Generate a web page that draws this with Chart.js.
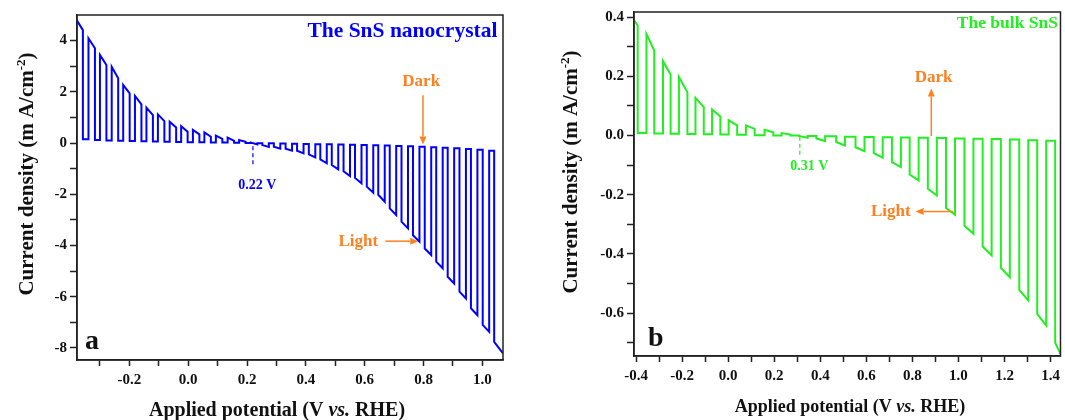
<!DOCTYPE html>
<html>
<head>
<meta charset="utf-8">
<script src="https://cdn.jsdelivr.net/npm/chart.js@4.4.1/dist/chart.umd.min.js"></script>
<style>
  body { margin: 0; background: #fff; }
  #wrap { position: relative; width: 1065px; height: 420px; background: #fff; }
  #chartA { position: absolute; left: 0; top: 0; width: 530px; height: 420px; }
  #chartB { position: absolute; left: 530px; top: 0; width: 535px; height: 420px; }
</style>
</head>
<body>
<div id="wrap">
  <canvas id="chartA" width="530" height="420"></canvas>
  <canvas id="chartB" width="535" height="420"></canvas>
</div>
<script>
// ---- Panel a: SnS nanocrystal, chopped light (V vs RHE, mA/cm-2) ----
// potential where the light is switched on / off for each chop
const aOn = [-0.378, -0.339, -0.300, -0.260, -0.221, -0.181, -0.142, -0.103, -0.063, -0.024,
    0.016, 0.055, 0.094, 0.134, 0.173, 0.213, 0.252, 0.291, 0.331, 0.370, 0.410, 0.449, 0.488,
    0.528, 0.567, 0.607, 0.646, 0.685, 0.725, 0.764, 0.804, 0.843, 0.882, 0.922, 0.961, 1.001, 1.040];
const aOff = [-0.358, -0.317, -0.278, -0.238, -0.199, -0.159, -0.120, -0.081, -0.041, -0.002,
    0.038, 0.077, 0.116, 0.156, 0.195, 0.235, 0.274, 0.313, 0.353, 0.392, 0.432, 0.471, 0.510,
    0.550, 0.589, 0.629, 0.668, 0.707, 0.747, 0.786, 0.826, 0.865, 0.904, 0.944, 0.983, 1.023, 1.070];
// current at the start and at the end of each light period
const aLightStart = [4.78, 4.09, 3.44, 2.98, 2.27, 1.84, 1.38, 1.12, 0.83, 0.66, 0.51, 0.42, 0.29,
    0.21, 0.12, 0.02, -0.08, -0.14, -0.22, -0.30, -0.44, -0.64, -0.86, -1.10, -1.36, -1.70, -2.02,
    -2.55, -3.07, -3.60, -4.12, -4.63, -5.22, -5.80, -6.45, -7.10, -7.76];
const aLightEnd = [4.41, 3.70, 3.05, 2.53, 1.94, 1.51, 1.09, 0.86, 0.61, 0.44, 0.34, 0.25, 0.16,
    0.09, 0.05, -0.05, -0.15, -0.22, -0.30, -0.40, -0.56, -0.79, -1.03, -1.29, -1.57, -1.94, -2.29,
    -2.81, -3.33, -3.85, -4.37, -4.89, -5.48, -6.07, -6.72, -7.37, -8.21];
// dark current after each light period
const aDark = [0.15, 0.12, 0.10, 0.09, 0.08, 0.07, 0.06, 0.05, 0.04, 0.03, 0.03, 0.02, 0.02, 0.01,
    0.00, -0.01, -0.01, -0.02, -0.03, -0.04, -0.05, -0.05, -0.06, -0.07, -0.08, -0.09, -0.10,
    -0.11, -0.12, -0.14, -0.16, -0.18, -0.20, -0.23, -0.26, -0.30];
const aXMajor = [-0.2, 0.0, 0.2, 0.4, 0.6, 0.8, 1.0];
const aXMinor = [-0.3, -0.1, 0.1, 0.3, 0.5, 0.7, 0.9];
const aYMajor = [-8, -6, -4, -2, 0, 2, 4];
const aYMinor = [-7, -5, -3, -1, 1, 3];

// ---- Panel b: bulk SnS ----
const bOn = [-0.409, -0.355, -0.283, -0.214, -0.142, -0.070, 0.002, 0.077, 0.158, 0.232, 0.307,
    0.383, 0.469, 0.553, 0.632, 0.711, 0.788, 0.867, 0.946, 1.026, 1.105, 1.184, 1.264, 1.342, 1.420];
const bOff = [-0.393, -0.321, -0.250, -0.177, -0.106, -0.034, 0.039, 0.115, 0.196, 0.270, 0.345,
    0.421, 0.507, 0.592, 0.671, 0.750, 0.827, 0.906, 0.985, 1.065, 1.144, 1.223, 1.303, 1.381, 1.443];
const bLightStart = [0.389, 0.343, 0.251, 0.197, 0.127, 0.088, 0.051, 0.034, 0.019, 0.008, -0.002,
    -0.010, -0.022, -0.040, -0.060, -0.090, -0.132, -0.180, -0.245, -0.305, -0.375, -0.447, -0.522,
    -0.603, -0.700];
const bLightEnd = [0.372, 0.287, 0.206, 0.146, 0.096, 0.064, 0.034, 0.022, 0.011, 0.003, -0.008,
    -0.019, -0.034, -0.053, -0.075, -0.107, -0.152, -0.203, -0.268, -0.332, -0.405, -0.479, -0.557,
    -0.642, -0.738];
const bDark = [0.008, 0.007, 0.006, 0.005, 0.004, 0.003, 0.002, 0.001, 0.000, 0.000, -0.002, -0.003,
    -0.004, -0.005, -0.006, -0.007, -0.008, -0.009, -0.010, -0.011, -0.012, -0.014, -0.016, -0.018];
const bXMajor = [-0.4, -0.2, 0.0, 0.2, 0.4, 0.6, 0.8, 1.0, 1.2, 1.4];
const bXMinor = [-0.3, -0.1, 0.1, 0.3, 0.5, 0.7, 0.9, 1.1, 1.3];
const bYMajor = [-0.6, -0.4, -0.2, 0.0, 0.2, 0.4];
const bYMinor = [-0.7, -0.5, -0.3, -0.1, 0.1, 0.3];

const FONT = '"Liberation Serif", "Times New Roman", serif';
const ORANGE = '#FF8020';
const BLUE = '#0000FF';
const GREEN = '#22EE22';

// Turn the chop tables into the square-wave trace
function buildChopped(onV, offV, lightStart, lightEnd, dark)
{
    var pts = [];
    for (var i = 0; i < onV.length; i++)
    {
        if (i > 0) pts.push({x: onV[i], y: dark[i - 1]});
        pts.push({x: onV[i], y: lightStart[i]});
        pts.push({x: offV[i], y: lightEnd[i]});
        if (i < dark.length) pts.push({x: offV[i], y: dark[i]});
    }
    return pts;
}

function axis(min, max, major, minor, decimals, fitSize, isX, tickLen)
{
    var all = major.concat(minor).sort(function(a, b) { return a - b; });
    return {
        type: 'linear',
        min: min,
        max: max,
        afterBuildTicks: function(scale) {
            scale.ticks = all.map(function(v) { return {value: v}; });
        },
        afterFit: function(scale) {
            if (isX) scale.height = fitSize; else scale.width = fitSize;
        },
        grid: {drawOnChartArea: false, drawTicks: true, tickLength: tickLen,
               tickColor: '#222', tickWidth: 1.5},
        border: {display: true, color: '#222', width: 1.5},
        ticks: {
            autoSkip: false,
            maxRotation: 0,
            padding: isX ? 5 : 3,
            color: '#111',
            font: {family: FONT, size: 15, weight: 'bold'},
            callback: function(value) {
                return major.indexOf(value) >= 0 ? value.toFixed(decimals) : '';
            }
        }
    };
}

function drawArrow(ctx, x1, y1, x2, y2, color)
{
    var ang = Math.atan2(y2 - y1, x2 - x1), hl = 8, hw = 3.5;
    var bx = x2 - hl * Math.cos(ang), by = y2 - hl * Math.sin(ang);
    ctx.strokeStyle = color;
    ctx.fillStyle = color;
    ctx.lineWidth = 1.5;
    ctx.beginPath(); ctx.moveTo(x1, y1); ctx.lineTo(bx, by); ctx.stroke();
    ctx.beginPath();
    ctx.moveTo(x2, y2);
    ctx.lineTo(bx - hw * Math.sin(ang), by + hw * Math.cos(ang));
    ctx.lineTo(bx + hw * Math.sin(ang), by - hw * Math.cos(ang));
    ctx.closePath();
    ctx.fill();
}

// draw pieces of text with different fonts one after another, centred on cx
function drawPieces(ctx, parts, cx, cy)
{
    var total = 0;
    parts.forEach(function(p) { ctx.font = p.font; total += ctx.measureText(p.text).width; });
    var x = cx - total / 2;
    ctx.textAlign = 'left';
    ctx.textBaseline = 'alphabetic';
    parts.forEach(function(p) {
        ctx.font = p.font;
        ctx.fillText(p.text, x, cy + (p.dy || 0));
        x += ctx.measureText(p.text).width;
    });
}

// frame, axis titles and the text/arrow notes of a panel
function makePanelPlugin(opt)
{
    return {
        id: 'panel',
        afterDraw: function(chart) {
            var ctx = chart.ctx, area = chart.chartArea;
            var xs = chart.scales.x, ys = chart.scales.y;
            ctx.save();
            ctx.strokeStyle = '#222';
            ctx.lineWidth = 1.5;
            ctx.strokeRect(area.left, area.top, area.right - area.left, area.bottom - area.top);

            // y title
            ctx.save();
            ctx.translate(opt.yTitleX, opt.yTitleY);
            ctx.rotate(-Math.PI / 2);
            ctx.fillStyle = '#111';
            var ys1 = opt.yTitleSize;
            drawPieces(ctx, [
                {text: 'Current density (m A/cm', font: 'bold ' + ys1 + 'px ' + FONT},
                {text: '-2', font: 'bold ' + Math.round(ys1 * 0.62) + 'px ' + FONT, dy: -ys1 * 0.38},
                {text: ')', font: 'bold ' + ys1 + 'px ' + FONT}
            ], 0, ys1 * 0.35);
            ctx.restore();

            // x title
            ctx.fillStyle = '#111';
            var xs1 = opt.xTitleSize;
            drawPieces(ctx, [
                {text: 'Applied potential (V ', font: 'bold ' + xs1 + 'px ' + FONT},
                {text: 'vs.', font: 'italic bold ' + xs1 + 'px ' + FONT},
                {text: ' RHE)', font: 'bold ' + xs1 + 'px ' + FONT}
            ], opt.xTitleX, opt.xTitleY + xs1 * 0.35);

            // notes placed in data units
            opt.texts.forEach(function(t) {
                ctx.font = 'bold ' + t.size + 'px ' + FONT;
                ctx.fillStyle = t.color;
                ctx.textAlign = t.align || 'center';
                ctx.textBaseline = 'middle';
                ctx.fillText(t.text, xs.getPixelForValue(t.x), ys.getPixelForValue(t.y));
            });
            opt.arrows.forEach(function(a) {
                drawArrow(ctx, xs.getPixelForValue(a.x1), ys.getPixelForValue(a.y1),
                    xs.getPixelForValue(a.x2), ys.getPixelForValue(a.y2), ORANGE);
            });
            opt.dashes.forEach(function(d) {
                ctx.strokeStyle = d.color;
                ctx.lineWidth = 1.2;
                ctx.setLineDash([4, 3]);
                ctx.beginPath();
                ctx.moveTo(xs.getPixelForValue(d.x), ys.getPixelForValue(d.y1));
                ctx.lineTo(xs.getPixelForValue(d.x), ys.getPixelForValue(d.y2));
                ctx.stroke();
                ctx.setLineDash([]);
            });
            ctx.restore();
        }
    };
}

function makeChart(canvasId, points, color, xAxis, yAxis, padding, plugin)
{
    return new Chart(document.getElementById(canvasId).getContext('2d'), {
        type: 'line',
        data: {
            datasets: [{
                data: points,
                borderColor: color,
                borderWidth: 2,
                pointRadius: 0,
                tension: 0,
                fill: false
            }]
        },
        options: {
            responsive: false,
            animation: false,
            parsing: false,
            layout: {padding: padding},
            plugins: {legend: {display: false}, tooltip: {enabled: false}},
            scales: {x: xAxis, y: yAxis}
        },
        plugins: [plugin]
    });
}

// Panel a
makeChart('chartA', buildChopped(aOn, aOff, aLightStart, aLightEnd, aDark), BLUE,
    axis(-0.378, 1.07, aXMajor, aXMinor, 1, 60, true, 6),
    axis(-8.47, 5.0, aYMajor, aYMinor, 0, 77, false, 7),
    {left: 0, right: 27, top: 15, bottom: 0},
    makePanelPlugin({
        yTitleX: 26, yTitleY: 174, yTitleSize: 21,
        xTitleX: 277, xTitleY: 409, xTitleSize: 20,
        texts: [
            {text: 'The SnS nanocrystal', x: 1.051, y: 4.34, size: 21.5, color: BLUE, align: 'right'},
            {text: 'Dark', x: 0.792, y: 2.39, size: 17, color: ORANGE},
            {text: 'Light', x: 0.578, y: -3.83, size: 17, color: ORANGE},
            {text: '0.22 V', x: 0.235, y: -1.64, size: 14, color: BLUE},
            {text: 'a', x: -0.327, y: -7.75, size: 28, color: '#111'}
        ],
        arrows: [
            {x1: 0.798, y1: 1.87, x2: 0.798, y2: -0.06},
            {x1: 0.670, y1: -3.83, x2: 0.782, y2: -3.83}
        ],
        dashes: [{x: 0.22, y1: -0.12, y2: -0.88, color: BLUE}]
    }));

// Panel b
makeChart('chartB', buildChopped(bOn, bOff, bLightStart, bLightEnd, bDark), GREEN,
    axis(-0.409, 1.443, bXMajor, bXMinor, 1, 64, true, 6),
    axis(-0.745, 0.417, bYMajor, bYMinor, 1, 104, false, 7),
    {left: 0, right: 2, top: 11, bottom: 0},
    makePanelPlugin({
        yTitleX: 40, yTitleY: 172, yTitleSize: 21,
        xTitleX: 320, xTitleY: 406, xTitleSize: 18,
        texts: [
            {text: 'The bulk SnS', x: 1.432, y: 0.378, size: 17.5, color: GREEN, align: 'right'},
            {text: 'Dark', x: 0.892, y: 0.197, size: 17, color: ORANGE},
            {text: 'Light', x: 0.706, y: -0.257, size: 17, color: ORANGE},
            {text: '0.31 V', x: 0.352, y: -0.105, size: 14, color: GREEN},
            {text: 'b', x: -0.314, y: -0.686, size: 28, color: '#111'}
        ],
        arrows: [
            {x1: 0.882, y1: -0.002, x2: 0.882, y2: 0.159},
            {x1: 0.978, y1: -0.257, x2: 0.814, y2: -0.257}
        ],
        dashes: [{x: 0.311, y1: -0.004, y2: -0.073, color: GREEN}]
    }));
</script>
</body>
</html>
